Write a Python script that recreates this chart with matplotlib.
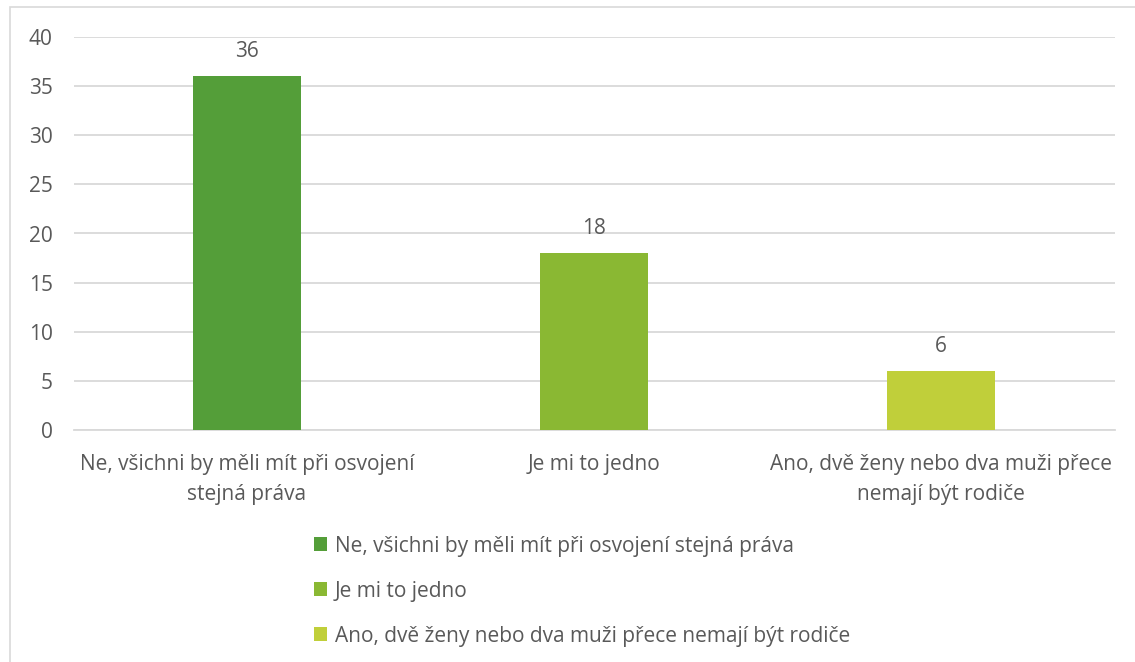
import matplotlib
matplotlib.use("Agg")
import matplotlib.pyplot as plt
from matplotlib.patches import Rectangle

categories = ["Ne, všichni by měli mít při osvojení\nstejná práva",
              "Je mi to jedno",
              "Ano, dvě ženy nebo dva muži přece\nnemají být rodiče"]
legend_labels = ["Ne, všichni by měli mít při osvojení stejná práva",
                 "Je mi to jedno",
                 "Ano, dvě ženy nebo dva muži přece nemají být rodiče"]
values = [36, 18, 6]
colors = ["#549E39", "#8AB833", "#C0CF3A"]
yticks = [0, 5, 10, 15, 20, 25, 30, 35, 40]

plt.rcParams['font.family'] = ['Open Sans', 'DejaVu Sans']
txt = "#595959"
fs = 15

fig = plt.figure(figsize=(11.35, 6.62), dpi=100)
fig.patches.append(Rectangle((10/1135, -0.01), 1.2, 1 - 7/662 + 0.01,
                             transform=fig.transFigure, fill=False,
                             edgecolor="#D9D9D9", linewidth=1.2))
ax = fig.add_axes([73.5/1135, 1 - 430/662, (1114.5 - 73.5)/1135, (430 - 37)/662])

x = range(len(values))
bars = []
for i, (v, c, lab) in enumerate(zip(values, colors, legend_labels)):
    b = ax.bar(i, v, width=0.31, color=c, label=lab, zorder=3)
    bars.append(b)
    ax.annotate(str(v), (i, v), xytext=(0, 10), textcoords="offset points",
                ha="center", va="bottom", fontsize=fs, color=txt)

ax.set_xlim(-0.5, len(values) - 0.5)
ax.set_ylim(0, 40)
ax.set_yticks(yticks)
ax.set_yticklabels([str(t) for t in yticks], fontsize=fs, color=txt)
ax.set_xticks(list(x))
ax.set_xticklabels(categories, fontsize=fs, color=txt, linespacing=1.6)
ax.tick_params(axis="both", length=0)
ax.tick_params(axis="y", pad=15)
ax.tick_params(axis="x", pad=17)
ax.grid(axis="y", color="#D9D9D9", linewidth=1.3, zorder=0)
for s in ["top", "right", "left"]:
    ax.spines[s].set_visible(False)
ax.spines["bottom"].set_color("#D9D9D9")
ax.spines["bottom"].set_linewidth(1.3)

leg = fig.legend(handles=[b for b in bars], labels=legend_labels,
                 loc="upper left", bbox_to_anchor=(295/1135, 1 - 517/662),
                 frameon=False, fontsize=fs, handlelength=0.65, handleheight=0.65,
                 handletextpad=0.35, labelspacing=1.15)
for t in leg.get_texts():
    t.set_color(txt)

fig.savefig("out.png", dpi=100)
